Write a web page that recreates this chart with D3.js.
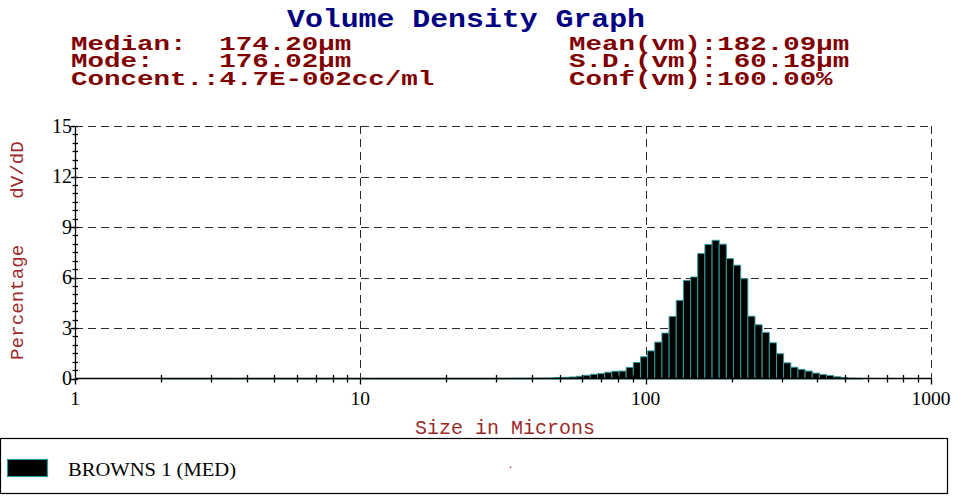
<!DOCTYPE html>
<html><head><meta charset="utf-8">
<script src="https://cdn.jsdelivr.net/npm/d3@7/dist/d3.min.js"></script>
<style>html,body{margin:0;padding:0;background:#fff;overflow:hidden} text{white-space:pre}</style>
</head><body><svg id="c" width="954" height="496"></svg>
<script>
// ---- data ----
const channelEdges = [
  2, 2.119, 2.245, 2.378, 2.520, 2.670, 2.828, 2.997, 3.175, 3.364, 3.564, 3.776,
  4, 4.238, 4.490, 4.757, 5.040, 5.339, 5.657, 5.993, 6.350, 6.727, 7.127, 7.551,
  8, 8.476, 8.980, 9.514, 10.08, 10.68, 11.31, 11.99, 12.70, 13.45, 14.25, 15.10,
  16, 16.95, 17.96, 19.03, 20.16, 21.36, 22.63, 23.97, 25.40, 26.91, 28.51, 30.20,
  32, 33.90, 35.92, 38.05, 40.32, 42.71, 45.25, 47.95, 50.80, 53.82, 57.02, 60.41,
  64, 67.81, 71.84, 76.11, 80.63, 85.43, 90.51, 95.89, 101.6, 107.6, 114.0, 120.8,
  128, 135.6, 143.7, 152.2, 161.3, 170.9, 181.0, 191.8, 203.2, 215.3, 228.1, 241.6,
  256, 271.2, 287.4, 304.4, 322.5, 341.7, 362.0, 383.6, 406.4, 430.5, 456.1, 483.3,
  512, 542.4, 574.7
];
const volumePct = [
  0,0,0,0,0,0,0,0,0,0,0,0,
  0,0,0,0,0,0,0,0,0,0,0,0,
  0,0,0,0,0,0,0,0,0,0,0,0,
  0,0,0,0,0,0,0,0,0,0,0,0,
  0.005, 0.01, 0.01, 0.015, 0.02, 0.025, 0.03, 0.05, 0.07, 0.09, 0.13, 0.19,
  0.25, 0.29, 0.37, 0.43, 0.44, 0.66, 0.95, 1.29, 1.64, 2.16, 2.70, 3.69,
  4.64, 5.83, 6.03, 7.42, 7.96, 8.21, 7.98, 7.12, 6.73, 5.93, 3.70, 3.19,
  2.74, 2.12, 1.47, 0.93, 0.67, 0.54, 0.44, 0.32, 0.24, 0.18, 0.10, 0.05,
  0.02, 0.01
];
const xTicks = [1, 10, 100, 1000];
const xMinorTicks = [2,3,4,5,6,7,8,9,20,30,40,50,60,70,80,90,200,300,400,500,600,700,800,900];
const yTicks = [0, 3, 6, 9, 12, 15];
const yMinorStep = 0.5;
const titleText = "Volume Density Graph";
const statsLeft = ["Median:  174.20µm", "Mode:    176.02µm", "Concent.:4.7E-002cc/ml"];
const statsRight = ["Mean(vm):182.09µm", "S.D.(vm): 60.18µm", "Conf(vm):100.00%"];
const yLabel = "Percentage    dV/dD";
const xLabel = "Size in Microns";
const seriesName = "BROWNS 1 (MED)";

// ---- drawing ----
const svg = d3.select("#c");
const mono = "'Liberation Mono','Courier New',monospace";
const serif = "'Liberation Serif','Times New Roman',serif";
const x = d3.scaleLog().domain([1, 1000]).range([75, 931]);
const y = d3.scaleLinear().domain([0, 15]).range([378.5, 126]);
const teal = "#2f9a9a";
const red = "#800000";

// title & stats (wide, short monospaced glyphs)
svg.append("text").attr("x", 287).attr("y", 27).attr("font-family", mono).attr("font-weight", "bold")
  .attr("font-size", 25).attr("fill", "#000080")
  .attr("textLength", 20 * 18.05 - 3).attr("lengthAdjust", "spacingAndGlyphs").text(titleText);
const rowY = [49.5, 67, 84.5];
const charW = 16.6;
function statText(s, xPos, i) {
  svg.append("text").attr("x", xPos).attr("y", rowY[i]).attr("font-family", mono)
    .attr("font-weight", "bold").attr("font-size", 21).attr("fill", red)
    .attr("textLength", s.length * charW - 2).attr("lengthAdjust", "spacingAndGlyphs").text(s);
}
statsLeft.forEach((s, i) => statText(s, 71, i));
statsRight.forEach((s, i) => statText(s, 569, i));

// grid (dashed)
const grid = svg.append("g").attr("stroke", "#2a2a2a").attr("stroke-width", 1).attr("stroke-dasharray", "8,5");
yTicks.filter(v => v > 0).forEach(v => grid.append("line").attr("x1", x(1)).attr("x2", x(1000))
  .attr("y1", Math.round(y(v)) + 0.5).attr("y2", Math.round(y(v)) + 0.5));
xTicks.filter(v => v > 1).forEach(v => grid.append("line").attr("x1", Math.round(x(v)) + 0.5).attr("x2", Math.round(x(v)) + 0.5)
  .attr("y1", y(15)).attr("y2", y(0) + 6));

// bars
const bars = svg.append("g");
volumePct.forEach((v, i) => {
  const x0 = x(channelEdges[i]), x1 = x(channelEdges[i + 1]);
  const y0 = y(0) + 0.5, y1 = y(v);
  bars.append("path").attr("d", `M${x0},${y0}V${Math.min(y1, y0)}H${x1}V${y0}Z`)
    .attr("fill", "#000").attr("stroke", teal).attr("stroke-width", 1);
});

// axes
const ax = svg.append("g").attr("stroke", "#000").attr("stroke-width", 1.3);
ax.append("line").attr("x1", x(1)).attr("x2", x(1000)).attr("y1", y(0)).attr("y2", y(0));
ax.append("line").attr("x1", x(1) + 0.5).attr("x2", x(1) + 0.5).attr("y1", y(0)).attr("y2", y(15));
xMinorTicks.forEach(v => ax.append("line").attr("x1", Math.round(x(v)) + 0.5).attr("x2", Math.round(x(v)) + 0.5)
  .attr("y1", y(0) - 3.5).attr("y2", y(0) + 4));
xTicks.forEach(v => ax.append("line").attr("x1", Math.round(x(v)) + 0.5).attr("x2", Math.round(x(v)) + 0.5)
  .attr("y1", y(0)).attr("y2", y(0) + 6));
d3.range(0, 15 + 1e-9, yMinorStep).forEach(v => ax.append("line").attr("x1", x(1) - 2.5).attr("x2", x(1) + 3)
  .attr("y1", Math.round(y(v)) + 0.5).attr("y2", Math.round(y(v)) + 0.5));
yTicks.forEach(v => ax.append("line").attr("x1", x(1) - 4).attr("x2", x(1))
  .attr("y1", Math.round(y(v)) + 0.5).attr("y2", Math.round(y(v)) + 0.5));

// tick labels
xTicks.forEach(v => svg.append("text").attr("x", x(v)).attr("y", 405).attr("text-anchor", "middle")
  .attr("font-family", serif).attr("font-size", 19.5).attr("fill", "#000").text(d3.format("d")(v)));
yTicks.forEach(v => svg.append("text").attr("x", 72).attr("y", y(v)).attr("dy", "0.34em").attr("text-anchor", "end")
  .attr("font-family", serif).attr("font-size", 20).attr("fill", "#000").text(v));

// axis titles
svg.append("text").attr("transform", "translate(23,250.5) rotate(-90)").attr("text-anchor", "middle")
  .attr("font-family", mono).attr("font-size", 19.2).attr("fill", "#9c2a2a").text(yLabel);
svg.append("text").attr("x", 505).attr("y", 434).attr("text-anchor", "middle")
  .attr("font-family", mono).attr("font-size", 20).attr("fill", "#9c2a2a").text(xLabel);

// legend
svg.append("rect").attr("x", 0.5).attr("y", 438.5).attr("width", 947).attr("height", 55)
  .attr("fill", "none").attr("stroke", "#000").attr("stroke-width", 1.2);
svg.append("rect").attr("x", 7.5).attr("y", 459.5).attr("width", 40).attr("height", 17)
  .attr("fill", "#000").attr("stroke", teal).attr("stroke-width", 1.2);
svg.append("text").attr("x", 68).attr("y", 476).attr("font-family", serif).attr("font-size", 18)
  .attr("textLength", 168).attr("lengthAdjust", "spacingAndGlyphs").attr("fill", "#000").text(seriesName);
svg.append("text").attr("x", 509).attr("y", 468).attr("font-family", serif).attr("font-size", 12)
  .attr("fill", red).text(".");
</script></body></html>
